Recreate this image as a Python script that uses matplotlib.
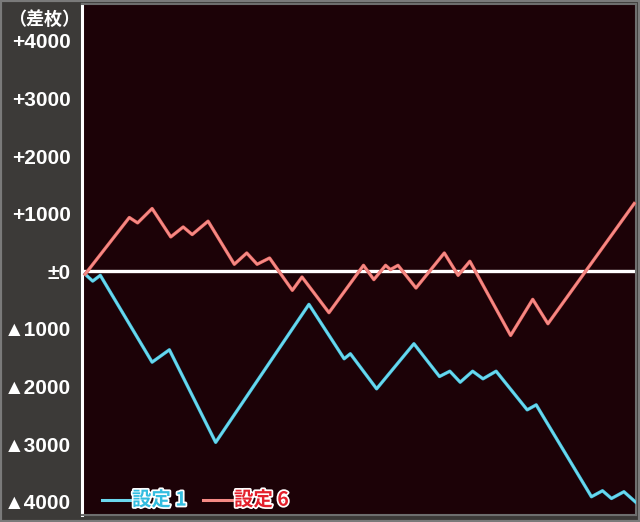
import matplotlib.pyplot as plt
import matplotlib.patheffects as pe
from matplotlib.patches import Rectangle

# games played vs coin difference
games_s1 = [0, 110, 220, 970, 1220, 1890, 3240, 3750, 3840, 4220, 4760, 5130,
            5280, 5430, 5610, 5760, 5950, 6400, 6530, 7330, 7490, 7620, 7800, 7975]
diff_s1 = [-50, -170, -70, -1577, -1362, -2969, -574, -1518, -1431, -2040, -1257, -1826,
           -1734, -1925, -1734, -1866, -1734, -2405, -2318, -3913, -3809, -3943, -3826, -4012]

games_s6 = [0, 640, 760, 970, 1240, 1420, 1550, 1780, 2160, 2340, 2490, 2670, 3000,
            3140, 3530, 4030, 4180, 4350, 4420, 4530, 4790, 5200, 5400, 5570, 6160,
            6480, 6700, 7950]
diff_s6 = [-50, 934, 840, 1090, 597, 770, 638, 870, 122, 318, 122, 231, -330,
           -99, -718, 104, -144, 104, 30, 104, -290, 318, -70, 174, -1113,
           -487, -910, 1177]

ytick_vals = [4000, 3000, 2000, 1000, 0, -1000, -2000, -3000, -4000]
ytick_labels = ["+4000", "+3000", "+2000", "+1000", "±0",
                "▲1000", "▲2000", "▲3000", "▲4000"]

fonts = ["Liberation Sans", "DejaVu Sans", "Noto Sans CJK JP"]
cjk = ["Noto Sans CJK JP", "DejaVu Sans"]

fig = plt.figure(figsize=(6.4, 5.22), dpi=100, facecolor="#3c3a38")
fig.patches.append(Rectangle((0, 0), 1, 1, transform=fig.transFigure,
                             fill=False, edgecolor="#7a7a7a", linewidth=3))

ax = fig.add_axes([82 / 640, 7 / 522, (636 - 82) / 640, (518 - 7) / 522])
ax.set_facecolor("#1c0207")

ax.axhline(0, color="white", linewidth=2.4, zorder=2)

ax.plot(games_s1, diff_s1, color="#6ad8ee", linewidth=1.6, zorder=3,
        path_effects=[pe.Stroke(linewidth=2.4, foreground="#3fb8d6"), pe.Normal()])
ax.plot(games_s6, diff_s6, color="#f58a85", linewidth=1.6, zorder=3,
        path_effects=[pe.Stroke(linewidth=2.4, foreground="#e0605c"), pe.Normal()])

ax.set_xlim(-45, 7975)
ax.set_ylim(-4230, 4640)

ax.set_xticks([])
ax.set_yticks(ytick_vals)
ax.set_yticklabels(ytick_labels, family=fonts, fontweight="bold",
                   fontsize=15, color="white")
ax.tick_params(axis="y", length=0, pad=8)

for side in ["top", "right", "bottom"]:
    ax.spines[side].set_color("#6e6e6e")
    ax.spines[side].set_linewidth(1.5)
ax.spines["left"].set_color("white")
ax.spines["left"].set_linewidth(2.2)

fig.text(44 / 640, 1 - 19 / 522, "（差枚）", family=cjk, fontweight="bold",
         fontsize=13, color="white", ha="center", va="center")

# legend drawn by hand
ly = 1 - 500 / 522
fig.add_artist(plt.Line2D([102 / 640, 130 / 640], [ly, ly], color="#6ad8ee",
                          linewidth=2.2, transform=fig.transFigure))
fig.text(132 / 640, ly, "設定 1", family=cjk, fontweight="bold", fontsize=14,
         color="#33bde0", ha="left", va="center",
         path_effects=[pe.withStroke(linewidth=2.5, foreground="white")])
fig.add_artist(plt.Line2D([203 / 640, 232 / 640], [ly, ly], color="#f58a85",
                          linewidth=2.2, transform=fig.transFigure))
fig.text(234 / 640, ly, "設定 6", family=cjk, fontweight="bold", fontsize=14,
         color="#e3202c", ha="left", va="center",
         path_effects=[pe.withStroke(linewidth=2.5, foreground="white")])

fig.savefig("out.png", dpi=100, facecolor=fig.get_facecolor())
